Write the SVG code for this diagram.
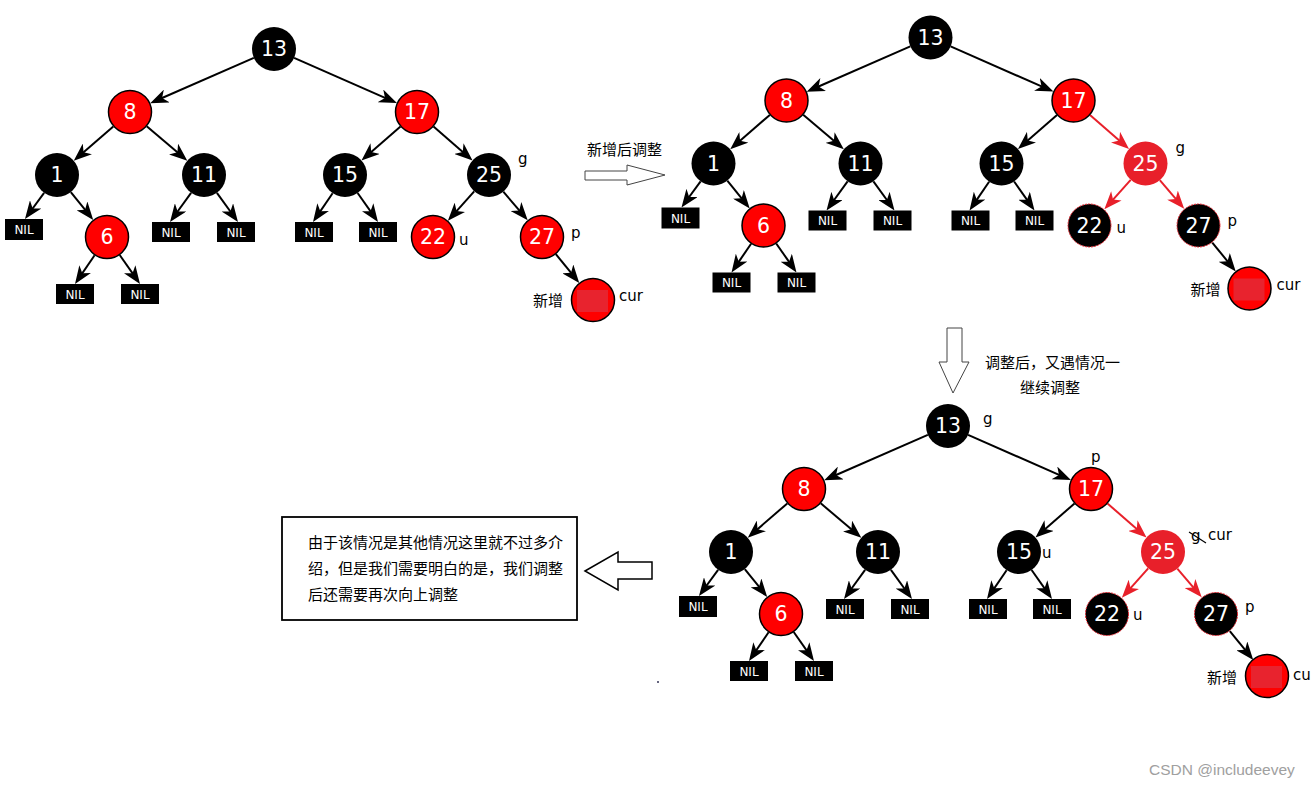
<svg xmlns="http://www.w3.org/2000/svg" width="1311" height="787" viewBox="0 0 1311 787">
<defs>
<marker id="ah" viewBox="0 0 18 14" refX="10" refY="7" markerWidth="18" markerHeight="14" markerUnits="userSpaceOnUse" orient="auto"><path d="M0,0 L18,7 L0,14 L5,7 z" fill="#000"/></marker>
<marker id="ahr" viewBox="0 0 18 14" refX="10" refY="7" markerWidth="18" markerHeight="14" markerUnits="userSpaceOnUse" orient="auto"><path d="M0,0 L18,7 L0,14 L5,7 z" fill="#e8202a"/></marker>
<style>
.e{stroke:#000;stroke-width:2;fill:none;marker-end:url(#ah)}
.er{stroke:#e8202a;stroke-width:2;fill:none;marker-end:url(#ahr)}
.nb{fill:#000}
.nr{fill:#ff0000;stroke:#000;stroke-width:1.5}
.ng{fill:#e8202a}
.nd{fill:#000;stroke:#e8202a;stroke-width:1;stroke-dasharray:2 1}
.sq{fill:#e8232e}
.num{font-family:"DejaVu Sans",sans-serif;font-size:20.5px;fill:#fff;text-anchor:middle}
.nil{fill:#000}
.nilt{font-family:"DejaVu Sans",sans-serif;font-size:12px;fill:#fff;text-anchor:middle}
.lbl{font-family:"DejaVu Sans","Noto Sans CJK SC",sans-serif;font-size:15px;fill:#000}
.cjk{font-family:"Noto Sans CJK SC",sans-serif;font-size:15px;fill:#000}
.hol{fill:#fff;stroke:#444;stroke-width:1}
</style>
</defs>
<rect width="1311" height="787" fill="#fff"/>

<!-- Tree 1 -->
<g id="tree1">
<g id="t1-edges">
<line class="e" x1="253.8" y1="57.8" x2="157.5" y2="100"/>
<line class="e" x1="294.1" y1="57.9" x2="389.6" y2="99.9"/>
<line class="e" x1="113.3" y1="126.4" x2="79.8" y2="155.4"/>
<line class="e" x1="146.7" y1="126.3" x2="181.2" y2="155.5"/>
<line class="e" x1="400.5" y1="126.5" x2="367.5" y2="155.2"/>
<line class="e" x1="433.5" y1="126.5" x2="466.5" y2="155.2"/>
<line class="e" x1="44.1" y1="192.8" x2="29.7" y2="212.5"/>
<line class="e" x1="70.8" y1="192.1" x2="88.2" y2="213.7"/>
<line class="e" x1="191.1" y1="192.8" x2="174.7" y2="215.5"/>
<line class="e" x1="216.9" y1="192.8" x2="233.3" y2="215.5"/>
<line class="e" x1="332.6" y1="193.2" x2="317.5" y2="215.4"/>
<line class="e" x1="357.6" y1="193" x2="373.4" y2="215.4"/>
<line class="e" x1="474.2" y1="191.3" x2="453.2" y2="214.8"/>
<line class="e" x1="503.3" y1="191.7" x2="522.5" y2="214.2"/>
<line class="e" x1="94.6" y1="255.2" x2="79.5" y2="277.4"/>
<line class="e" x1="119.7" y1="255" x2="135.4" y2="277.4"/>
<line class="e" x1="555.8" y1="254.1" x2="574.2" y2="276.7"/>
</g>
<g id="t1-n13"><circle class="nb" cx="274" cy="49" r="22"/><text class="num" x="274" y="56">13</text></g>
<g id="t1-n8"><circle class="nr" cx="130" cy="112" r="21.5"/><text class="num" x="130" y="119">8</text></g>
<g id="t1-n17"><circle class="nr" cx="417" cy="112" r="21.5"/><text class="num" x="417" y="119">17</text></g>
<g id="t1-n1"><circle class="nb" cx="57" cy="175" r="22"/><text class="num" x="57" y="182">1</text></g>
<g id="t1-n11"><circle class="nb" cx="204" cy="175" r="22"/><text class="num" x="204" y="182">11</text></g>
<g id="t1-n15"><circle class="nb" cx="345" cy="175" r="22"/><text class="num" x="345" y="182">15</text></g>
<g id="t1-n25"><circle class="nb" cx="489" cy="175" r="22"/><text class="num" x="489" y="182">25</text><text class="lbl" x="518" y="164">g</text></g>
<g id="t1-n6"><circle class="nr" cx="107" cy="237" r="21.5"/><text class="num" x="107" y="244">6</text></g>
<g id="t1-n22"><circle class="nr" cx="433" cy="237" r="21.5"/><text class="num" x="433" y="244">22</text><text class="lbl" x="459" y="245">u</text></g>
<g id="t1-n27"><circle class="nr" cx="542" cy="237" r="21.5"/><text class="num" x="542" y="244">27</text><text class="lbl" x="571" y="238">p</text></g>
<g id="t1-cur"><circle class="nr" cx="593" cy="300" r="21.5"/><rect class="sq" x="577" y="290" width="31" height="22"/><text class="cjk" x="533" y="306">新增</text><text class="lbl" x="619" y="301">cur</text></g>
<g id="t1-nil1"><rect class="nil" x="5" y="219" width="38" height="21"/><text class="nilt" x="24" y="234">NIL</text></g>
<g id="t1-nil2"><rect class="nil" x="152" y="222" width="38" height="20"/><text class="nilt" x="171" y="236.5">NIL</text></g>
<g id="t1-nil3"><rect class="nil" x="217" y="222" width="38" height="20"/><text class="nilt" x="236" y="236.5">NIL</text></g>
<g id="t1-nil4"><rect class="nil" x="295" y="222" width="38" height="20"/><text class="nilt" x="314" y="236.5">NIL</text></g>
<g id="t1-nil5"><rect class="nil" x="359" y="222" width="38" height="20"/><text class="nilt" x="378" y="236.5">NIL</text></g>
<g id="t1-nil6"><rect class="nil" x="56" y="284" width="38" height="20"/><text class="nilt" x="75" y="298.5">NIL</text></g>
<g id="t1-nil7"><rect class="nil" x="121" y="284" width="38" height="20"/><text class="nilt" x="140" y="298.5">NIL</text></g>
</g>

<!-- Tree 2 -->
<g id="tree2" transform="translate(656.5,-11.5)">
<g id="t2-edges">
<line class="e" x1="253.8" y1="57.8" x2="157.5" y2="100"/>
<line class="e" x1="294.1" y1="57.9" x2="389.6" y2="99.9"/>
<line class="e" x1="113.3" y1="126.4" x2="79.8" y2="155.4"/>
<line class="e" x1="146.7" y1="126.3" x2="181.2" y2="155.5"/>
<line class="e" x1="400.5" y1="126.5" x2="367.5" y2="155.2"/>
<line class="er" x1="433.5" y1="126.5" x2="466.5" y2="155.2"/>
<line class="e" x1="44.1" y1="192.8" x2="29.7" y2="212.5"/>
<line class="e" x1="70.8" y1="192.1" x2="88.2" y2="213.7"/>
<line class="e" x1="191.1" y1="192.8" x2="174.7" y2="215.5"/>
<line class="e" x1="216.9" y1="192.8" x2="233.3" y2="215.5"/>
<line class="e" x1="332.6" y1="193.2" x2="317.5" y2="215.4"/>
<line class="e" x1="357.6" y1="193" x2="373.4" y2="215.4"/>
<line class="er" x1="474.2" y1="191.3" x2="453.2" y2="214.8"/>
<line class="er" x1="503.3" y1="191.7" x2="522.5" y2="214.2"/>
<line class="e" x1="94.6" y1="255.2" x2="79.5" y2="277.4"/>
<line class="e" x1="119.7" y1="255" x2="135.4" y2="277.4"/>
<line class="e" x1="555.8" y1="254.1" x2="574.2" y2="276.7"/>
</g>
<g id="t2-n13"><circle class="nb" cx="274" cy="49" r="22"/><text class="num" x="274" y="56">13</text></g>
<g id="t2-n8"><circle class="nr" cx="130" cy="112" r="21.5"/><text class="num" x="130" y="119">8</text></g>
<g id="t2-n17"><circle class="nr" cx="417" cy="112" r="21.5"/><text class="num" x="417" y="119">17</text></g>
<g id="t2-n1"><circle class="nb" cx="57" cy="175" r="22"/><text class="num" x="57" y="182">1</text></g>
<g id="t2-n11"><circle class="nb" cx="204" cy="175" r="22"/><text class="num" x="204" y="182">11</text></g>
<g id="t2-n15"><circle class="nb" cx="345" cy="175" r="22"/><text class="num" x="345" y="182">15</text></g>
<g id="t2-n25"><circle class="ng" cx="489" cy="175" r="22"/><text class="num" x="489" y="182">25</text><text class="lbl" x="519" y="164">g</text></g>
<g id="t2-n6"><circle class="nr" cx="107" cy="237" r="21.5"/><text class="num" x="107" y="244">6</text></g>
<g id="t2-n22"><circle class="nd" cx="433" cy="237" r="21.5"/><text class="num" x="433" y="244">22</text><text class="lbl" x="460" y="244">u</text></g>
<g id="t2-n27"><circle class="nd" cx="542" cy="237" r="21.5"/><text class="num" x="542" y="244">27</text><text class="lbl" x="571" y="237">p</text></g>
<g id="t2-cur"><circle class="nr" cx="593" cy="300" r="21.5"/><rect class="sq" x="577" y="290" width="31" height="22"/><text class="cjk" x="534" y="306">新增</text><text class="lbl" x="620" y="301">cur</text></g>
<g id="t2-nil1"><rect class="nil" x="5" y="219" width="38" height="21"/><text class="nilt" x="24" y="234">NIL</text></g>
<g id="t2-nil2"><rect class="nil" x="152" y="222" width="38" height="20"/><text class="nilt" x="171" y="236.5">NIL</text></g>
<g id="t2-nil3"><rect class="nil" x="217" y="222" width="38" height="20"/><text class="nilt" x="236" y="236.5">NIL</text></g>
<g id="t2-nil4"><rect class="nil" x="295" y="222" width="38" height="20"/><text class="nilt" x="314" y="236.5">NIL</text></g>
<g id="t2-nil5"><rect class="nil" x="359" y="222" width="38" height="20"/><text class="nilt" x="378" y="236.5">NIL</text></g>
<g id="t2-nil6"><rect class="nil" x="56" y="284" width="38" height="20"/><text class="nilt" x="75" y="298.5">NIL</text></g>
<g id="t2-nil7"><rect class="nil" x="121" y="284" width="38" height="20"/><text class="nilt" x="140" y="298.5">NIL</text></g>
</g>

<!-- Tree 3 -->
<g id="tree3" transform="translate(674,377)">
<g id="t3-edges">
<line class="e" x1="253.8" y1="57.8" x2="157.5" y2="100"/>
<line class="e" x1="294.1" y1="57.9" x2="389.6" y2="99.9"/>
<line class="e" x1="113.3" y1="126.4" x2="79.8" y2="155.4"/>
<line class="e" x1="146.7" y1="126.3" x2="181.2" y2="155.5"/>
<line class="e" x1="400.5" y1="126.5" x2="367.5" y2="155.2"/>
<line class="er" x1="433.5" y1="126.5" x2="466.5" y2="155.2"/>
<line class="e" x1="44.1" y1="192.8" x2="29.7" y2="212.5"/>
<line class="e" x1="70.8" y1="192.1" x2="88.2" y2="213.7"/>
<line class="e" x1="191.1" y1="192.8" x2="174.7" y2="215.5"/>
<line class="e" x1="216.9" y1="192.8" x2="233.3" y2="215.5"/>
<line class="e" x1="332.6" y1="193.2" x2="317.5" y2="215.4"/>
<line class="e" x1="357.6" y1="193" x2="373.4" y2="215.4"/>
<line class="er" x1="474.2" y1="191.3" x2="453.2" y2="214.8"/>
<line class="er" x1="503.3" y1="191.7" x2="522.5" y2="214.2"/>
<line class="e" x1="94.6" y1="255.2" x2="79.5" y2="277.4"/>
<line class="e" x1="119.7" y1="255" x2="135.4" y2="277.4"/>
<line class="e" x1="555.8" y1="254.1" x2="574.2" y2="276.7"/>
</g>
<g id="t3-n13"><circle class="nb" cx="274" cy="49" r="22"/><text class="num" x="274" y="56">13</text><text class="lbl" x="309" y="47">g</text></g>
<g id="t3-n8"><circle class="nr" cx="130" cy="112" r="21.5"/><text class="num" x="130" y="119">8</text></g>
<g id="t3-n17"><circle class="nr" cx="417" cy="112" r="21.5"/><text class="num" x="417" y="119">17</text><text class="lbl" x="417" y="85">p</text></g>
<g id="t3-n1"><circle class="nb" cx="57" cy="175" r="22"/><text class="num" x="57" y="182">1</text></g>
<g id="t3-n11"><circle class="nb" cx="204" cy="175" r="22"/><text class="num" x="204" y="182">11</text></g>
<g id="t3-n15"><circle class="nb" cx="345" cy="175" r="22"/><text class="num" x="345" y="182">15</text><text class="lbl" x="368" y="181">u</text></g>
<g id="t3-n25"><circle class="ng" cx="489" cy="175" r="22"/><text class="num" x="489" y="182">25</text><text class="lbl" x="517" y="164">g</text><line x1="515" y1="155" x2="532" y2="166" stroke="#000" stroke-width="1.2"/><text class="lbl" x="534" y="163">cur</text></g>
<g id="t3-n6"><circle class="nr" cx="107" cy="237" r="21.5"/><text class="num" x="107" y="244">6</text></g>
<g id="t3-n22"><circle class="nd" cx="433" cy="237" r="21.5"/><text class="num" x="433" y="244">22</text><text class="lbl" x="459" y="243">u</text></g>
<g id="t3-n27"><circle class="nd" cx="542" cy="237" r="21.5"/><text class="num" x="542" y="244">27</text><text class="lbl" x="571" y="235">p</text></g>
<g id="t3-cur"><circle class="nr" cx="593" cy="299" r="21.5"/><rect class="sq" x="577" y="289" width="31" height="22"/><text class="cjk" x="533" y="306">新增</text><text class="lbl" x="619" y="303">cu</text></g>
<g id="t3-nil1"><rect class="nil" x="5" y="219" width="38" height="21"/><text class="nilt" x="24" y="234">NIL</text></g>
<g id="t3-nil2"><rect class="nil" x="152" y="222" width="38" height="20"/><text class="nilt" x="171" y="236.5">NIL</text></g>
<g id="t3-nil3"><rect class="nil" x="217" y="222" width="38" height="20"/><text class="nilt" x="236" y="236.5">NIL</text></g>
<g id="t3-nil4"><rect class="nil" x="295" y="222" width="38" height="20"/><text class="nilt" x="314" y="236.5">NIL</text></g>
<g id="t3-nil5"><rect class="nil" x="359" y="222" width="38" height="20"/><text class="nilt" x="378" y="236.5">NIL</text></g>
<g id="t3-nil6"><rect class="nil" x="56" y="284" width="38" height="20"/><text class="nilt" x="75" y="298.5">NIL</text></g>
<g id="t3-nil7"><rect class="nil" x="121" y="284" width="38" height="20"/><text class="nilt" x="140" y="298.5">NIL</text></g>
</g>

<!-- Annotations -->
<g id="step1">
<text class="cjk" x="587" y="155" font-size="14.5">新增后调整</text>
<polygon class="hol" points="585,171 627,171 627,165 665,175 627,185 627,180 585,180"/>
</g>
<g id="step2">
<polygon class="hol" stroke="#333" points="947,328 962,328 962,362 969,362 953,393 939,362 947,362"/>
<text class="cjk" x="985" y="368">调整后，又遇情况一</text>
<text class="cjk" x="1020" y="393">继续调整</text>
</g>
<g id="note">
<rect x="282" y="517" width="295" height="103" fill="#fff" stroke="#000" stroke-width="1.8"/>
<text class="cjk" x="308" y="548">由于该情况是其他情况这里就不过多介</text>
<text class="cjk" x="308" y="574">绍，但是我们需要明白的是，我们调整</text>
<text class="cjk" x="308" y="600">后还需要再次向上调整</text>
<polygon fill="#fff" stroke="#000" stroke-width="1.5" points="585,571 618,552 618,562 652,562 652,579 618,579 618,590"/>
</g>
<circle cx="658" cy="682" r="1" fill="#335"/>
<text x="1149" y="775" font-family="Liberation Sans, Arial, sans-serif" font-size="15.5" fill="#a0a0a0">CSDN @includeevey</text>
</svg>
